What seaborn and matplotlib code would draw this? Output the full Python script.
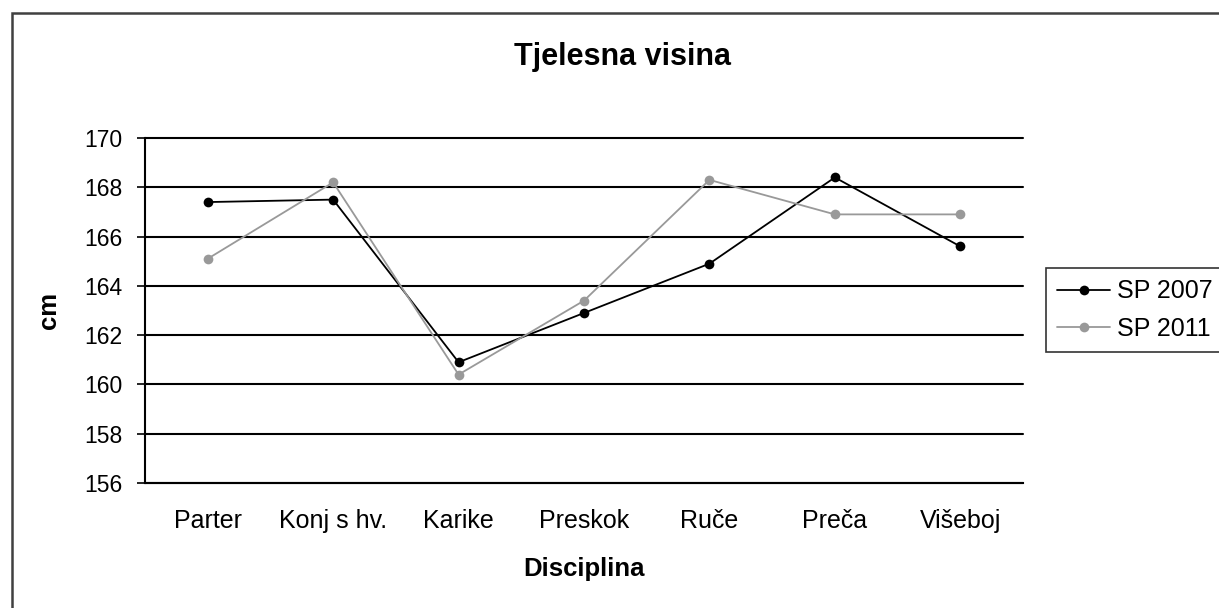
import numpy as np
import pandas as pd
import matplotlib
matplotlib.use("Agg")
import matplotlib.pyplot as plt
import seaborn as sns
from matplotlib.patches import Rectangle

disciplines = ["Parter", "Konj s hv.", "Karike", "Preskok", "Ruče", "Preča", "Višeboj"]
sp2007 = [167.4, 167.5, 160.9, 162.9, 164.9, 168.4, 165.6]
sp2011 = [165.1, 168.2, 160.4, 163.4, 168.3, 166.9, 166.9]
series_names = ["SP 2007", "SP 2011"]
y_ticks = [156, 158, 160, 162, 164, 166, 168, 170]

df = pd.DataFrame({
    "Disciplina": disciplines * 2,
    "cm": sp2007 + sp2011,
    "serija": [series_names[0]] * len(disciplines) + [series_names[1]] * len(disciplines),
})

sns.set_style("white")
plt.rcParams['font.family'] = ['Liberation Sans', 'DejaVu Sans']
plt.rcParams['text.color'] = 'black'
plt.rcParams['axes.labelcolor'] = 'black'
plt.rcParams['xtick.color'] = 'black'
plt.rcParams['ytick.color'] = 'black'

fig = plt.figure(figsize=(12.19, 6.08), dpi=100)
ax = fig.add_axes([145 / 1219, 1 - 483 / 608, (1023 - 145) / 1219, (483 - 138) / 608])

palette = {"SP 2007": "black", "SP 2011": "#999999"}
sns.lineplot(
    data=df, x="Disciplina", y="cm", hue="serija", palette=palette,
    marker="o", markersize=7, markeredgewidth=0, linewidth=1.3,
    sort=False, ax=ax, legend=True,
)

ax.set_xlim(-0.5, len(disciplines) - 0.5)
ax.set_ylim(156, 170)
ax.set_yticks(y_ticks)
ax.set_yticklabels([str(t) for t in y_ticks], fontsize=16.5)
ax.yaxis.grid(True, color="black", linewidth=1.5)
for gl in ax.get_ygridlines():
    gl.set_clip_on(False)
ax.set_axisbelow(True)

ax.set_xticks(range(len(disciplines)))
ax.set_xticklabels(disciplines, fontsize=18)
ax.set_xticks(np.arange(-0.5, len(disciplines), 1.0), minor=True)
ax.tick_params(axis="x", which="major", length=0, pad=19)
ax.tick_params(axis="x", which="minor", length=6, width=1.2, color="black", direction="out")
ax.tick_params(axis="y", which="major", length=6, width=1.2, color="black", direction="out",
               left=True, pad=10)

for side in ["top", "right"]:
    ax.spines[side].set_visible(False)
for side in ["left", "bottom"]:
    ax.spines[side].set_color("black")
    ax.spines[side].set_linewidth(1.5)

ax.set_xlabel("Disciplina", fontsize=18.5, fontweight="bold", labelpad=17)
ax.set_ylabel("cm", fontsize=18.5, fontweight="bold", labelpad=17)

fig.text(622 / 1219, 1 - 57 / 608, "Tjelesna visina", fontsize=22, fontweight="bold",
         ha="center", va="center")

handles, labels = ax.get_legend_handles_labels()
ax.get_legend().remove()
leg = fig.legend(handles, labels, loc="upper left",
                 bbox_to_anchor=(1046 / 1219, 1 - 268 / 608),
                 fontsize=18, frameon=True, fancybox=False, edgecolor="black",
                 handlelength=2.1, handletextpad=0.28, borderpad=0.45, labelspacing=0.55,
                 borderaxespad=0)
leg.get_frame().set_linewidth(1.2)

fig.patches.append(Rectangle((12 / 1219, -0.05), 1.1, 1 - 13 / 608 + 0.05,
                             transform=fig.transFigure, fill=False,
                             edgecolor="#404040", linewidth=1.8))

fig.savefig("out.png", dpi=100)
